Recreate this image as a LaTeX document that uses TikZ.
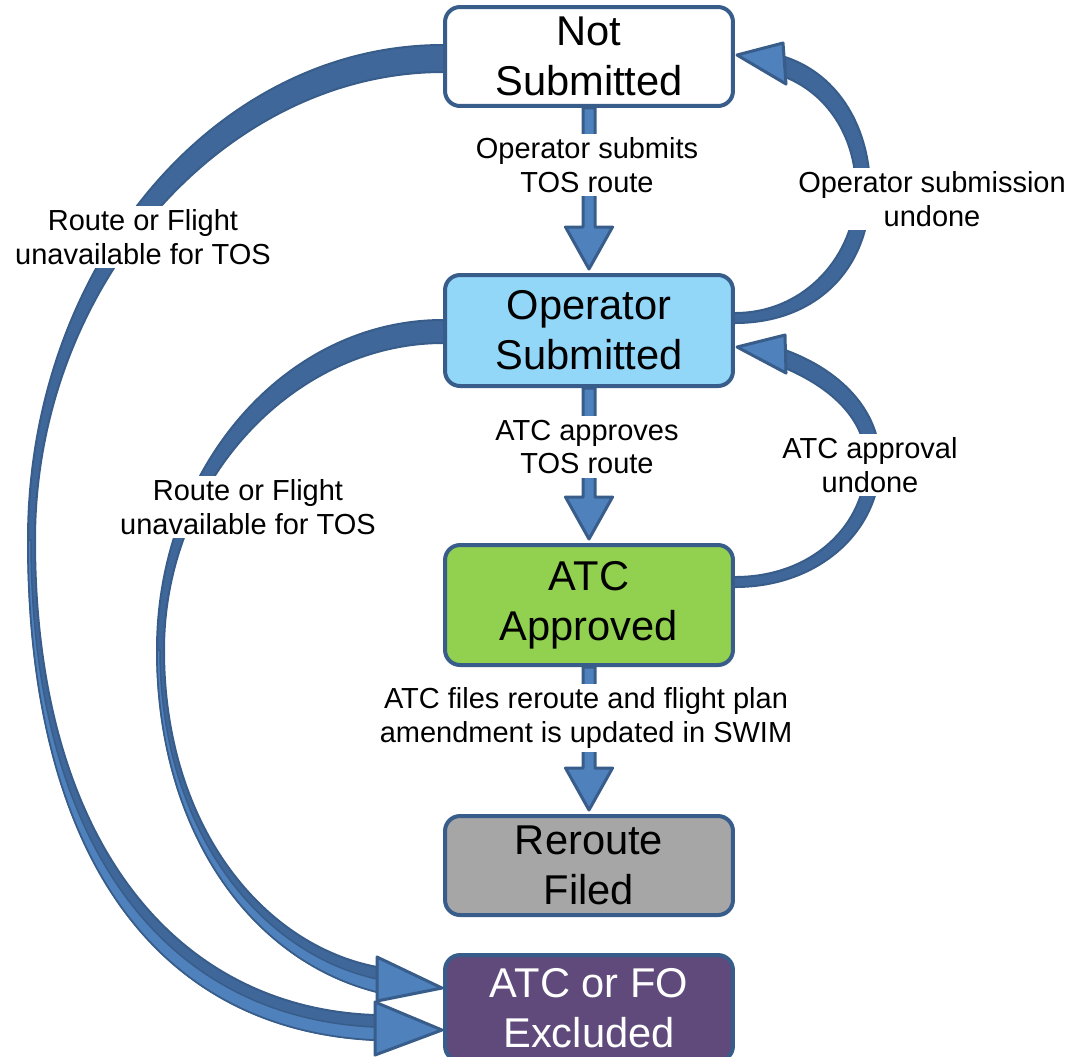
\documentclass[tikz,border=0pt]{standalone}
\usepackage{fontspec}
\setmainfont{Liberation Sans}
\usetikzlibrary{calc,backgrounds}

\definecolor{edgeblue}{RGB}{56,93,138}
\definecolor{ribbon}{RGB}{64,103,153}
\definecolor{headblue}{RGB}{79,129,189}
\definecolor{skyfill}{RGB}{146,214,248}
\definecolor{greenfill}{RGB}{146,208,80}
\definecolor{grayfill}{RGB}{166,166,166}
\definecolor{purplefill}{RGB}{96,74,123}

% block arrow pointing down from one anchor to another
\newcommand\blockdown[2]{%
  \draw[headshape] ($(#1)+(-6,0)$) -- ($(#2)+(-6,-46)$) -- ($(#2)+(-23.5,-46)$)
    -- ($(#2)+(0,-4)$) -- ($(#2)+(23.5,-46)$) -- ($(#2)+(6,-46)$)
    -- ($(#1)+(6,0)$) -- cycle;}

\begin{document}
\begin{tikzpicture}[x=0.02cm,y=-0.02cm,
  state/.style={draw=edgeblue, line width=0.08cm, rounded corners=0.3cm,
    minimum width=5.76cm, align=center, inner sep=0pt,
    font=\fontsize{23.7}{28.4}\selectfont},
  lbl/.style={fill=white, align=center, inner sep=2pt,
    font=\fontsize{16.5}{19.3}\selectfont},
  ribbonband/.style={fill=ribbon, draw=edgeblue, line width=0.04cm, line join=round},
  ribbonface/.style={fill=headblue, draw=edgeblue, line width=0.03cm, line join=round},
  headshape/.style={fill=headblue, draw=edgeblue, line width=0.06cm, line join=round},
]
\useasboundingbox (0,0) rectangle (1070,1056);

% states
\node[state, fill=white, minimum height=1.98cm] (ns) at (589,56.5) {Not\\Submitted};
\node[state, fill=skyfill, minimum height=2.22cm] (os) at (589,330.5) {Operator\\Submitted};
\node[state, fill=greenfill, minimum height=2.4cm] (aa) at (589,605) {ATC\\Approved};
\node[state, fill=grayfill, minimum height=1.98cm] (rf) at (589,865.5) {Reroute\\Filed};
\node[state, fill=purplefill, text=white, minimum height=2.12cm] (ex) at (589,1008) {ATC or FO\\Excluded};

% transition labels
\node[lbl] (l1) at (587,165) {Operator submits\\TOS route};
\node[lbl] (l2) at (587,447) {ATC approves\\TOS route};
\node[lbl] (l3) at (586,718) {ATC files reroute and flight plan\\amendment is updated in SWIM};
\node[lbl] (l4) at (932,199) {Operator submission\\undone};
\node[lbl] (l5) at (870,465) {ATC approval\\undone};
\node[lbl] (l6) at (143,237) {Route or Flight\\unavailable for TOS};
\node[lbl] (l7) at (248,507) {Route or Flight\\unavailable for TOS};

\begin{scope}[on background layer]
  % Operator Submitted -> Excluded
  \draw[ribbonband] (450,320) -- (443,320) .. controls (285,320) and (157,468) .. (157,650)
    .. controls (157,830) and (250,960) .. (377,992) -- (377,967)
    .. controls (262,945) and (164,825) .. (164,650)
    .. controls (164,480) and (295,343) .. (443,343) -- (450,343) -- cycle;
  \draw[ribbonface] (157,650) .. controls (157,830) and (250,960) .. (377,992)
    -- (377,979) .. controls (258,953) and (160,828) .. (160,650) -- cycle;
  \draw[headshape] (377,957) -- (442,988) -- (377,1001) -- cycle;
  % Not Submitted -> Excluded
  \draw[ribbonband] (450,45) -- (443,45) .. controls (214,45) and (28,267) .. (28,540)
    .. controls (28,860) and (160,1030) .. (375,1040) -- (375,1015)
    .. controls (175,1008) and (35,840) .. (35,540)
    .. controls (35,285) and (225,72) .. (443,72) -- (450,72) -- cycle;
  \draw[ribbonface] (28,540) .. controls (28,860) and (160,1030) .. (375,1040)
    -- (375,1027) .. controls (168,1018) and (31,850) .. (31,540) -- cycle;
  \draw[headshape] (375,1002) -- (442,1030) -- (375,1055) -- cycle;
  % Operator Submitted -> Not Submitted
  \draw[ribbonband] (728,313) -- (735,313) .. controls (805,313) and (856,255) .. (856,190)
    .. controls (856,140) and (830,95) .. (785,77) -- (785,57)
    .. controls (840,75) and (870,130) .. (870,190)
    .. controls (870,270) and (815,323) .. (735,323) -- (728,323) -- cycle;
  \draw[headshape] (783,43) -- (737,55) -- (786,84) -- cycle;
  % ATC Approved -> Operator Submitted
  \draw[ribbonband] (728,577) -- (735,577) .. controls (812,577) and (866,525) .. (866,462)
    .. controls (866,420) and (832,388) .. (785,368) -- (785,350)
    .. controls (840,370) and (880,410) .. (880,462)
    .. controls (880,530) and (820,587) .. (735,587) -- (728,587) -- cycle;
  \draw[headshape] (785,335) -- (737,347) -- (786,373) -- cycle;
  % forward transitions
  \blockdown{ns.south}{os.north}
  \blockdown{os.south}{aa.north}
  \blockdown{aa.south}{rf.north}
\end{scope}
\end{tikzpicture}
\end{document}
